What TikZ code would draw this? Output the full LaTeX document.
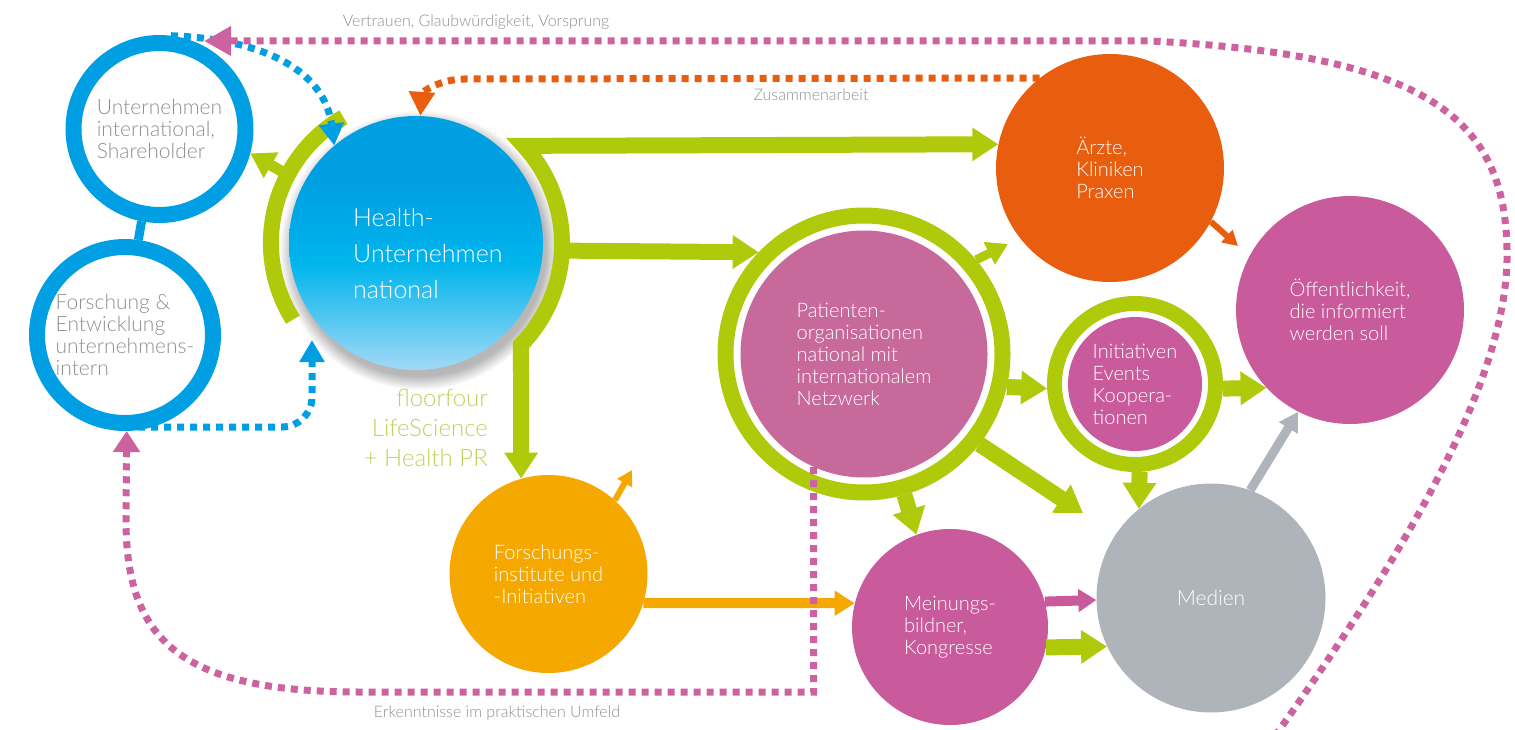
\documentclass[tikz,border=0pt]{standalone}
\usepackage{fontspec}
\setmainfont{Lato}[UprightFont={* Light}]
\usepackage{tikz}
\usetikzlibrary{arrows.meta}

\definecolor{fblue}{HTML}{009FE3}
\definecolor{fgreen}{HTML}{AFCA0B}
\definecolor{ppink}{HTML}{C8699B}
\definecolor{mpink}{HTML}{C95B9C}
\definecolor{dpink}{HTML}{CC62A0}
\definecolor{ared}{HTML}{E85D0E}
\definecolor{forange}{HTML}{F5A800}
\definecolor{mgrey}{HTML}{AEB4BA}
\definecolor{tgrey}{HTML}{8C8F91}
\definecolor{lgreen}{HTML}{BDD25C}
\definecolor{hblue}{HTML}{009FE2}
\definecolor{hcyan}{HTML}{00B5EC}
\definecolor{hlight}{HTML}{A2D9F7}

% blue to light blue fill of the middle circle, and its soft shadow
\pgfdeclareverticalshading{hgrad}{100bp}{color(0bp)=(hlight); color(25bp)=(hlight); color(46bp)=(hcyan); color(62bp)=(hblue); color(100bp)=(hblue)}
\pgfdeclareradialshading{hglow}{\pgfpointorigin}{color(0bp)=(black!30); color(22.5bp)=(black!28); color(25bp)=(white); color(50bp)=(white)}

\begin{document}
\begin{tikzpicture}[x=1pt, y=-1pt,
  ring/.style={circle, draw=fblue, line width=16pt, inner sep=0pt, text=tgrey, align=left, font=\fontsize{21}{22}\selectfont},
  disc/.style={circle, inner sep=0pt, text=white, align=left, font=\fontsize{20}{22}\selectfont},
  gring/.style={circle, draw=fgreen, line width=16pt, inner sep=0pt},
  gline/.style={draw=fgreen, line width=16pt},
  garrow/.style={gline, -{Triangle[width=32pt,length=26pt]}},
  gsmall/.style={draw=fgreen, line width=9pt, -{Triangle[width=24pt,length=21pt]}},
  gleft/.style={draw=fgreen, line width=11pt, -{Triangle[width=28pt,length=24pt]}},
  oarrow/.style={draw=forange, line width=10pt, -{Triangle[width=24pt,length=20pt]}},
  parrow/.style={draw=mpink, line width=10pt, -{Triangle[width=22pt,length=18pt]}},
  grarrow/.style={draw=mgrey, line width=9pt, -{Triangle[width=21pt,length=19pt]}},
  osmall/.style={line width=6pt, -{Triangle[width=16pt,length=15pt]}},
  dotline/.style={line width=7pt, dash pattern=on 7pt off 6pt},
  lbl/.style={text=tgrey, font=\fontsize{16}{18}\selectfont, inner sep=0pt}]

\useasboundingbox (0,0) rectangle (1515,730);

% middle circle with shadow
\shade[shading=hglow] (419,250) circle[radius=140];
\node[circle, inner sep=0pt, minimum size=254pt, shade, shading=hgrad] (health) at (416,243) {};
\node[circle, inner sep=0pt, minimum size=290pt] (hring) at (health) {};
\node[text=white, align=left, anchor=west, inner sep=0pt, font=\fontsize{25}{36}\selectfont] (healthtxt) at (353,254) {Health-\\Unternehmen\\national};

% green bracket, left side
\draw[gline] (hring.120) arc[start angle=-120, end angle=-212, radius=145];

% blue rings on the left
\node[ring, minimum size=172pt] (intl) at (159.5,129) {Unternehmen\\international,\\Shareholder};
\node[ring, minimum size=176pt] (forsch) at (125,335) {Forschung \&\\Entwicklung\\unternehmens-\\intern};
\draw[draw=fblue, line width=9pt] (intl.-101) -- (forsch.82);

% the other circles
\node[disc, fill=forange, minimum size=198pt] (finst) at (548.5,574) {Forschungs-\\institute und\\-Initiativen};
\node[gring, minimum size=277pt] (patring) at (864,354) {};
\node[disc, fill=ppink, minimum size=247pt] (pat) at (864,354) {Patienten-\\organisationen\\national mit\\internationalem\\Netzwerk};
\node[disc, fill=ared, minimum size=228pt] (aerzte) at (1110,168) {Ärzte,\\Kliniken\\Praxen};
\node[gring, line width=15pt, minimum size=161pt] (inir) at (1135,384) {};
\node[disc, fill=mpink, minimum size=134pt] (ini) at (1135,384) {Initiativen\\Events\\Koopera-\\tionen};
\node[disc, fill=mpink, minimum size=228pt] (oeff) at (1350,310) {Öffentlichkeit,\\die informiert\\werden soll};
\node[disc, fill=mpink, minimum size=196pt] (meinung) at (950,627) {Meinungs-\\bildner,\\Kongresse};
\node[disc, fill=mgrey, minimum size=229pt, font=\fontsize{21}{22}\selectfont] (medien) at (1211,598) {Medien};

\node[text=lgreen, align=right, anchor=east, inner sep=0pt, font=\fontsize{24}{30}\selectfont] (ffpr) at (488,428) {floorfour\\LifeScience\\+ Health PR};

% green bracket, right side: to the doctors and down to the institutes
\draw[gline, {Triangle[width=32pt,length=26pt]}-{Triangle[width=32pt,length=26pt]}] (aerzte.168.5) -- (hring.42.5) arc[start angle=-42.5, end angle=44.2, radius=145] -- (finst.106.7);

% free ends
\coordinate (pup) at (1008,244);
\coordinate (pdiag) at (1083,513);
\coordinate (aoe) at (1238,246);
\coordinate (fup) at (632,470);
\coordinate (hbelow) at (312,340);
\coordinate (pstart) at (1275,736);
\coordinate (ptip) at (204,41);

% solid arrows
\draw[gleft] (hring.152) -- (intl.-15);
\draw[garrow] (hring.-3) -- (patring.136);
\draw[garrow] (patring.-74) -- (meinung.110);
\draw[garrow] (patring.-38) -- (pdiag);
\draw[garrow] (patring.-13.4) -- (inir.183);
\draw[gsmall] (patring.40) -- (pup);
\draw[garrow] (inir.-87) -- (medien.129);
\draw[garrow] (inir.-3) -- (oeff.223.6);
\draw[garrow] (meinung.-12) -- (medien.205.4);
\draw[parrow] (meinung.15) -- (medien.181.8);
\draw[oarrow] (finst.-17) -- (meinung.166);
\draw[osmall, forange] (finst.48) -- (fup);
\draw[osmall, ared] (aerzte.-28) -- (aoe);
\draw[grarrow] (medien.70) -- (oeff.-117);

% dotted arrows
\draw[dotline, fblue, -{Triangle[width=24pt,length=22pt]}] (intl.83) .. controls (280,40) and (326,80) .. (health.130);
\draw[dotline, fblue, rounded corners=30pt, -{Triangle[width=24pt,length=22pt]}] ([yshift=4pt]forsch.south) -| (hbelow);
\draw[dotline, ared, -{Triangle[width=25pt,length=24pt]}] (aerzte.128.6) -- (465,79) .. controls (440,79) and (422,92) .. (health.88);
\draw[dotline, dpink, -{Triangle[width=26pt,length=21pt]}] (pat.246.6) |- (360,692) .. controls (180,692) and (126,640) .. (126,520) -- (forsch.-89);
\draw[dotline, dpink, -{Triangle[width=28pt,length=27pt]}] (pstart) .. controls (1400,560) and (1510,380) .. (1507,250) .. controls (1505,120) and (1430,55) .. (1150,41) -- (ptip);

% labels on the dotted lines
\node[lbl] (vertrauen) at (476,22) {Vertrauen, Glaubwürdigkeit, Vorsprung};
\node[lbl] (zusammen) at (811,95) {Zusammenarbeit};
\node[lbl] (erkennt) at (497,713) {Erkenntnisse im praktischen Umfeld};
\end{tikzpicture}
\end{document}
